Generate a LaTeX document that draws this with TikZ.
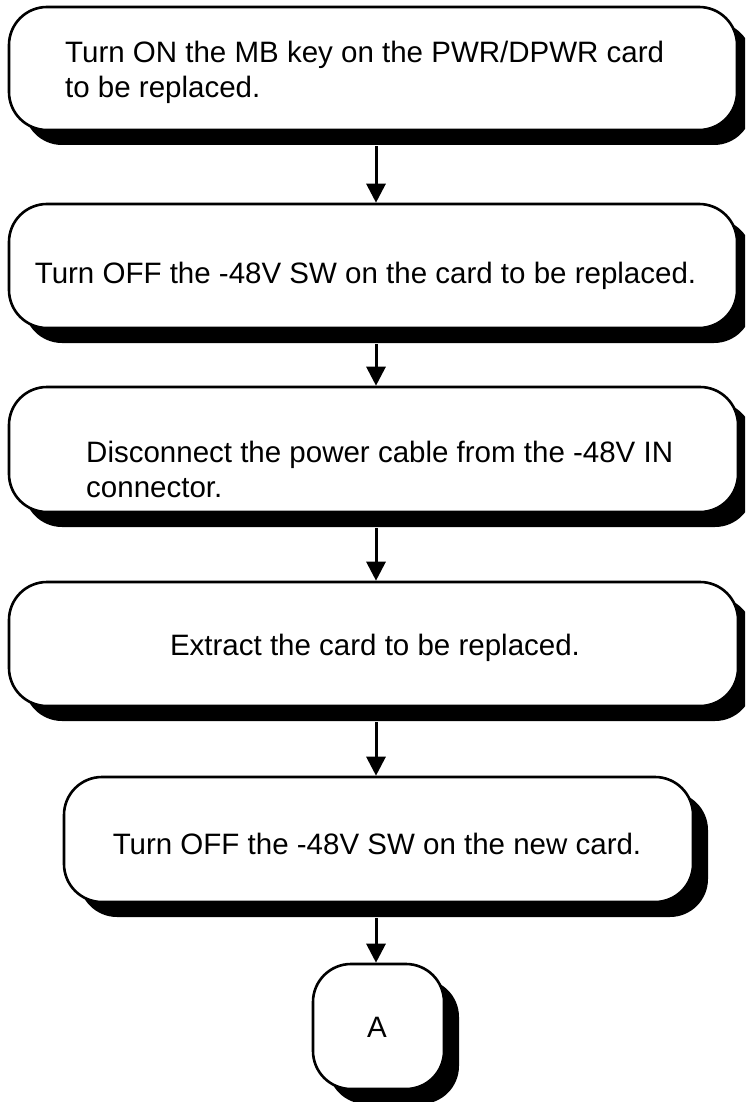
\documentclass[tikz,border=0pt]{standalone}
\usepackage{fontspec}
\setmainfont{Liberation Sans}
\usetikzlibrary{shadows,arrows.meta,calc}
\begin{document}
\begin{tikzpicture}[x=1pt,y=-1pt,
  box/.style={draw=black, line width=2.6pt, fill=white, rounded corners=38pt, inner sep=0pt,
    drop shadow={shadow xshift=15pt, shadow yshift=-15pt, fill=black, opacity=1, draw=none}},
  txt/.style={font=\fontsize{29.5}{35}\selectfont, inner sep=0pt, align=left},
  arr/.style={line width=3pt, -{Triangle[length=19pt,width=19pt]}}]
\useasboundingbox (0,0) rectangle (745,1102);
\clip (0,0) rectangle (745,1102);
% boxes
\node[box, minimum width=728pt, minimum height=123pt] (b1) at (373,68.5) {};
\node[box, minimum width=728pt, minimum height=124pt] (b2) at (373,266) {};
\node[box, minimum width=729pt, minimum height=125pt] (b3) at (373.5,449.5) {};
\node[box, minimum width=729pt, minimum height=124pt] (b4) at (373.5,644) {};
\node[box, minimum width=629pt, minimum height=125pt] (b5) at (378.5,839.5) {};
\node[box, minimum width=131pt, minimum height=125pt] (bA) at (378.5,1026.5) {};
% texts
\node[txt, anchor=west] (t1) at (65,71.9) {Turn ON the MB key on the PWR/DPWR card\\to be replaced.};
\node[txt, anchor=base] (t2) at (365.5,283) {Turn OFF the -48V SW on the card to be replaced.};
\node[txt, anchor=west] (t3) at (86,469.8) {Disconnect the power cable from the -48V IN\\connector.};
\node[txt, anchor=base] (t4) at (375,655) {Extract the card to be replaced.};
\node[txt, anchor=base] (t5) at (377,854) {Turn OFF the -48V SW on the new card.};
\node[txt, anchor=base] (tA) at (377,1037) {A};
% arrows
\coordinate (ax) at (376,0);
\draw[arr] ($(b1.south -| ax)+(0,15)$) -- (b2.north -| ax);
\draw[arr] ($(b2.south -| ax)+(0,15)$) -- (b3.north -| ax);
\draw[arr] ($(b3.south -| ax)+(0,15)$) -- (b4.north -| ax);
\draw[arr] ($(b4.south -| ax)+(0,15)$) -- (b5.north -| ax);
\draw[arr] ($(b5.south -| ax)+(0,15)$) -- (bA.north -| ax);
\end{tikzpicture}
\end{document}
